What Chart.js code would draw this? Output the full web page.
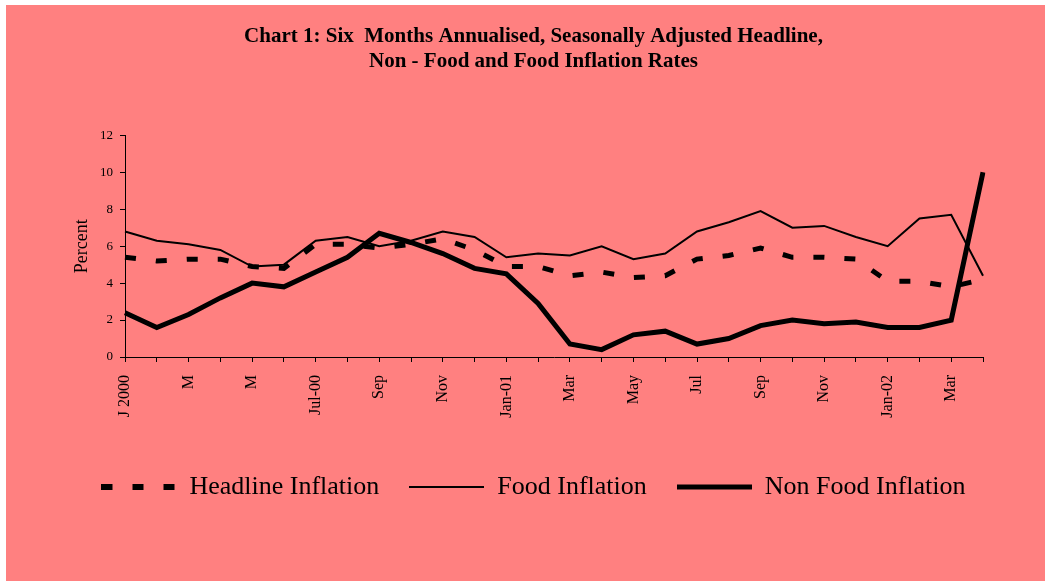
<!DOCTYPE html>
<html>
<head>
<meta charset="utf-8">
<script src="https://cdn.jsdelivr.net/npm/chart.js@4/dist/chart.umd.min.js"></script>
<style>
  body { margin: 0; background: #ffffff; }
  #wrap { position: absolute; left: 6px; top: 5px; }
  canvas { background: #ff8080; display: block; }
</style>
</head>
<body>
<div id="wrap"><canvas id="myChart" width="1039" height="576"></canvas></div>
<script>
"use strict";
// months Jan 2000 .. Apr 2002, label on every other month
const months = ["J 2000", "", "M", "", "M", "", "Jul-00", "", "Sep", "", "Nov", "",
  "Jan-01", "", "Mar", "", "May", "", "Jul", "", "Sep", "", "Nov", "",
  "Jan-02", "", "Mar", ""];

const headline = [5.4, 5.2, 5.3, 5.3, 4.9, 4.8, 6.1, 6.1, 5.9, 6.1, 6.4, 5.8,
  4.9, 4.9, 4.4, 4.6, 4.3, 4.4, 5.3, 5.5, 5.9, 5.4, 5.4, 5.3,
  4.1, 4.1, 3.8, 4.2];
const food = [6.8, 6.3, 6.1, 5.8, 4.9, 5.0, 6.3, 6.5, 6.0, 6.3, 6.8, 6.5,
  5.4, 5.6, 5.5, 6.0, 5.3, 5.6, 6.8, 7.3, 7.9, 7.0, 7.1, 6.5,
  6.0, 7.5, 7.7, 4.4];
const nonFood = [2.4, 1.6, 2.3, 3.2, 4.0, 3.8, 4.6, 5.4, 6.7, 6.2, 5.6, 4.8,
  4.5, 2.9, 0.7, 0.4, 1.2, 1.4, 0.7, 1.0, 1.7, 2.0, 1.8, 1.9,
  1.6, 1.6, 2.0, 10.0];

const yTicks = [0, 2, 4, 6, 8, 10, 12];

const serif = "'Liberation Serif', 'Times New Roman', serif";

// little canvases used as legend symbols (dashed / thin / thick line)
function legendIcon(width, dash) {
  const c = document.createElement("canvas");
  c.width = 75;
  c.height = 8;
  const g = c.getContext("2d");
  g.strokeStyle = "#000";
  g.lineWidth = width;
  g.lineCap = "butt";
  g.setLineDash(dash);
  g.beginPath();
  g.moveTo(0, 4);
  g.lineTo(75, 4);
  g.stroke();
  return c;
}
const legendIcons = [legendIcon(6, [11, 20]), legendIcon(2, []), legendIcon(5, [])];

var ctx = document.getElementById("myChart").getContext("2d");
var chart = new Chart(ctx, {
  type: "line",
  data: {
    labels: months,
    datasets: [
      {
        label: "Headline Inflation",
        data: headline,
        borderColor: "#000",
        backgroundColor: "transparent",
        borderWidth: 5,
        borderDash: [11, 20],
        borderCapStyle: "butt",
        pointRadius: 0,
        tension: 0
      },
      {
        label: "Food Inflation",
        data: food,
        borderColor: "#000",
        backgroundColor: "transparent",
        borderWidth: 2,
        pointRadius: 0,
        tension: 0
      },
      {
        label: "Non Food Inflation",
        data: nonFood,
        borderColor: "#000",
        backgroundColor: "transparent",
        borderWidth: 5,
        pointRadius: 0,
        tension: 0
      }
    ]
  },
  options: {
    responsive: false,
    animation: false,
    layout: { padding: { left: 16, right: 0, top: 0, bottom: 71 } },
    plugins: {
      title: {
        display: true,
        text: ["Chart 1: Six  Months Annualised, Seasonally Adjusted Headline,",
               "Non - Food and Food Inflation Rates"],
        color: "#000",
        font: { family: serif, size: 21, weight: "bold", lineHeight: 1.2 },
        padding: { top: 19, bottom: 61 }
      },
      legend: {
        position: "bottom",
        labels: {
          color: "#000",
          font: { family: serif, size: 26 },
          usePointStyle: true,
          pointStyleWidth: 75,
          padding: 30,
          generateLabels: function (chart) {
            const items = Chart.defaults.plugins.legend.labels.generateLabels(chart);
            items.forEach((it, i) => { it.pointStyle = legendIcons[i]; });
            return items;
          }
        }
      },
      tooltip: { enabled: false }
    },
    scales: {
      x: {
        offset: false,
        afterFit: function (scale) { scale.height = 87; },
        grid: {
          offset: false,
          drawOnChartArea: false,
          color: "#000",
          tickLength: 5
        },
        border: { color: "#000", width: 1 },
        ticks: {
          autoSkip: false,
          minRotation: 90,
          maxRotation: 90,
          padding: 13,
          color: "#000",
          font: { family: serif, size: 16 }
        }
      },
      y: {
        min: 0,
        max: 12,
        afterFit: function (scale) { scale.width = 103; },
        afterBuildTicks: function (scale) {
          scale.ticks = yTicks.map(v => ({ value: v }));
        },
        grid: {
          drawOnChartArea: false,
          color: "#000",
          tickLength: 5
        },
        border: { color: "#000", width: 1 },
        ticks: {
          padding: 7,
          color: "#000",
          font: { family: serif, size: 13 }
        },
        title: {
          display: true,
          text: "Percent",
          color: "#000",
          font: { family: serif, size: 18 },
          padding: { top: 49, bottom: 0 }
        }
      },
      // empty right-hand axis, only keeps the plot clear of the right edge
      yRight: {
        position: "right",
        afterFit: function (scale) { scale.width = 62; },
        grid: { display: false },
        border: { display: false },
        ticks: { display: false }
      }
    }
  }
});
</script>
</body>
</html>
